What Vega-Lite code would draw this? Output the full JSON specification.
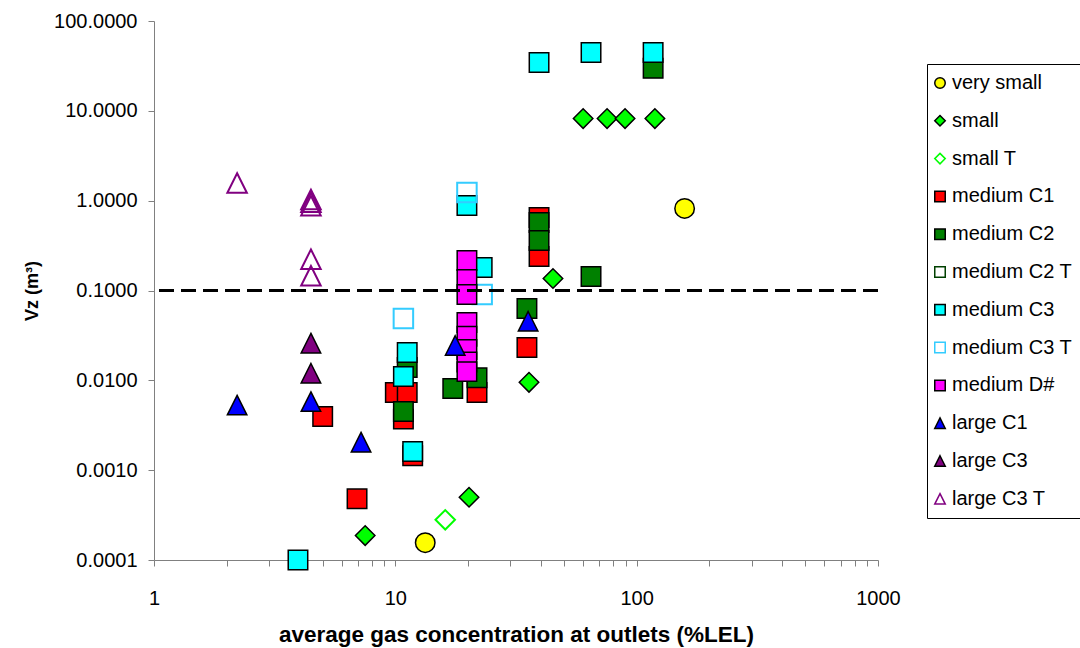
{
  "$schema": "https://vega.github.io/schema/vega-lite/v6.json",
  "width": 724,
  "height": 539,
  "autosize": "none",
  "padding": {"left": 154, "top": 21, "right": 202, "bottom": 88},
  "background": "white",
  "config": {"view": {"stroke": null}, "font": "Liberation Sans"},
  "data": {
    "values": [
      {"s": "very small", "x": 158, "y": 0.82},
      {"s": "very small", "x": 13.3, "y": 0.000156},
      {"s": "small", "x": 7.5, "y": 0.000187},
      {"s": "small", "x": 20.2, "y": 0.0005},
      {"s": "small", "x": 35.8, "y": 0.0095},
      {"s": "small", "x": 45, "y": 0.136},
      {"s": "small", "x": 60, "y": 8.2},
      {"s": "small", "x": 75.4, "y": 8.2},
      {"s": "small", "x": 89.5, "y": 8.2},
      {"s": "small", "x": 119, "y": 8.2},
      {"s": "small T", "x": 16.1, "y": 0.00028},
      {"s": "medium C1", "x": 5.0, "y": 0.00395},
      {"s": "medium C1", "x": 6.94, "y": 0.00048},
      {"s": "medium C1", "x": 10.0, "y": 0.0073},
      {"s": "medium C1", "x": 11.2, "y": 0.0073},
      {"s": "medium C1", "x": 10.8, "y": 0.0037},
      {"s": "medium C1", "x": 11.8, "y": 0.00145},
      {"s": "medium C1", "x": 21.8, "y": 0.0073},
      {"s": "medium C1", "x": 35.1, "y": 0.0232},
      {"s": "medium C1", "x": 39.4, "y": 0.65},
      {"s": "medium C1", "x": 39.4, "y": 0.239},
      {"s": "medium C2", "x": 11.2, "y": 0.0139},
      {"s": "medium C2", "x": 10.8, "y": 0.0045},
      {"s": "medium C2", "x": 17.3, "y": 0.0081},
      {"s": "medium C2", "x": 21.8, "y": 0.0107},
      {"s": "medium C2", "x": 35.1, "y": 0.063},
      {"s": "medium C2", "x": 39.4, "y": 0.57},
      {"s": "medium C2", "x": 39.4, "y": 0.36},
      {"s": "medium C2", "x": 64.7, "y": 0.143},
      {"s": "medium C2", "x": 117, "y": 29.7},
      {"s": "medium C3", "x": 3.95, "y": 0.0001},
      {"s": "medium C3", "x": 10.8, "y": 0.011},
      {"s": "medium C3", "x": 11.2, "y": 0.0204},
      {"s": "medium C3", "x": 11.8, "y": 0.00161},
      {"s": "medium C3", "x": 19.8, "y": 0.885},
      {"s": "medium C3", "x": 22.9, "y": 0.18},
      {"s": "medium C3", "x": 39.4, "y": 34.6},
      {"s": "medium C3", "x": 64.7, "y": 44.7},
      {"s": "medium C3", "x": 117, "y": 44.7},
      {"s": "medium C3 T", "x": 10.8, "y": 0.0488},
      {"s": "medium C3 T", "x": 19.8, "y": 1.23},
      {"s": "medium C3 T", "x": 22.9, "y": 0.09},
      {"s": "medium D#", "x": 19.8, "y": 0.216},
      {"s": "medium D#", "x": 19.8, "y": 0.133},
      {"s": "medium D#", "x": 19.8, "y": 0.09},
      {"s": "medium D#", "x": 19.8, "y": 0.044},
      {"s": "medium D#", "x": 19.8, "y": 0.031},
      {"s": "medium D#", "x": 19.8, "y": 0.022},
      {"s": "medium D#", "x": 19.8, "y": 0.016},
      {"s": "medium D#", "x": 19.8, "y": 0.0125},
      {"s": "large C1", "x": 2.21, "y": 0.0053},
      {"s": "large C1", "x": 4.47, "y": 0.0058},
      {"s": "large C1", "x": 7.21, "y": 0.00205},
      {"s": "large C1", "x": 17.7, "y": 0.0244},
      {"s": "large C1", "x": 35.5, "y": 0.0455},
      {"s": "large C3", "x": 4.47, "y": 0.0259},
      {"s": "large C3", "x": 4.47, "y": 0.012},
      {"s": "large C3 T", "x": 2.21, "y": 1.57},
      {"s": "large C3 T", "x": 4.47, "y": 1.03},
      {"s": "large C3 T", "x": 4.47, "y": 0.96},
      {"s": "large C3 T", "x": 4.47, "y": 0.88},
      {"s": "large C3 T", "x": 4.47, "y": 0.223},
      {"s": "large C3 T", "x": 4.47, "y": 0.146}
    ]
  },
  "layer": [
    {
      "mark": {"type": "point", "filled": true, "opacity": 1, "size": 380},
      "encoding": {
        "x": {
          "field": "x", "type": "quantitative",
          "scale": {"type": "log", "domain": [1, 1000], "nice": false},
          "axis": {
            "title": "average gas concentration at outlets (%LEL)",
            "values": [1,2,3,4,5,6,7,8,9,10,20,30,40,50,60,70,80,90,100,200,300,400,500,600,700,800,900,1000],
            "labelExpr": "indexof([1,10,100,1000], datum.value) >= 0 ? format(datum.value, 'd') : ''",
            "labelOverlap": false,
            "labelFlush": false,
            "labelFontSize": 20,
            "labelPadding": 22,
            "labelColor": "black",
            "tickSize": 6,
            "tickColor": "#808080",
            "domainColor": "#808080",
            "grid": false,
            "titleFontSize": 22.5,
            "titleFontWeight": "bold",
            "titleColor": "black",
            "titlePadding": 15
          }
        },
        "y": {
          "field": "y", "type": "quantitative",
          "scale": {"type": "log", "domain": [0.0001, 100], "nice": false},
          "axis": {
            "title": "Vz (m³)",
            "values": [0.0001, 0.001, 0.01, 0.1, 1, 10, 100],
            "format": ".4f",
            "labelFontSize": 20,
            "labelPadding": 11,
            "labelColor": "black",
            "tickSize": 6,
            "tickColor": "#808080",
            "domainColor": "#808080",
            "grid": false,
            "titleFontSize": 18,
            "titleFontWeight": "bold",
            "titleColor": "black",
            "titlePadding": 12
          }
        },
        "shape": {
          "field": "s", "type": "nominal",
          "scale": {
            "domain": ["very small","small","small T","medium C1","medium C2","medium C2 T","medium C3","medium C3 T","medium D#","large C1","large C3","large C3 T"],
            "range": ["circle","diamond","diamond","square","square","square","square","square","square","M0,-1L1,1L-1,1Z","M0,-1L1,1L-1,1Z","M0,-1L1,1L-1,1Z"]
          },
          "legend": {
            "title": null,
            "orient": "none",
            "legendX": 773,
            "legendY": 43,
            "padding": 9,
            "strokeColor": "#000000",
            "fillColor": "white",
            "symbolSize": 110,
            "symbolStrokeWidth": 1.5,
            "symbolOffset": -6,
            "labelFontSize": 20,
            "labelColor": "black",
            "labelOffset": 2,
            "rowPadding": 17.8
          }
        },
        "fill": {
          "field": "s", "type": "nominal",
          "scale": {
            "domain": ["very small","small","small T","medium C1","medium C2","medium C2 T","medium C3","medium C3 T","medium D#","large C1","large C3","large C3 T"],
            "range": ["#FFFF00","#00FF00","transparent","#FF0000","#008000","transparent","#00FFFF","transparent","#FF00FF","#0000FF","#800080","transparent"]
          },
          "legend": {"title": null}
        },
        "stroke": {
          "field": "s", "type": "nominal",
          "scale": {
            "domain": ["very small","small","small T","medium C1","medium C2","medium C2 T","medium C3","medium C3 T","medium D#","large C1","large C3","large C3 T"],
            "range": ["#000000","#000000","#00FF00","#000000","#000000","#004000","#000000","#33CCFF","#000000","#000000","#000000","#800080"]
          },
          "legend": {"title": null}
        },
        "strokeWidth": {
          "condition": {"test": "indexof(['small T','medium C2 T','medium C3 T','large C3 T'], datum.s) >= 0", "value": 2},
          "value": 1.5
        }
      }
    },
    {
      "mark": {"type": "rule", "strokeDash": [15, 7], "color": "black", "strokeWidth": 1.5},
      "encoding": {"y": {"datum": 0.1}}
    }
  ]
}
